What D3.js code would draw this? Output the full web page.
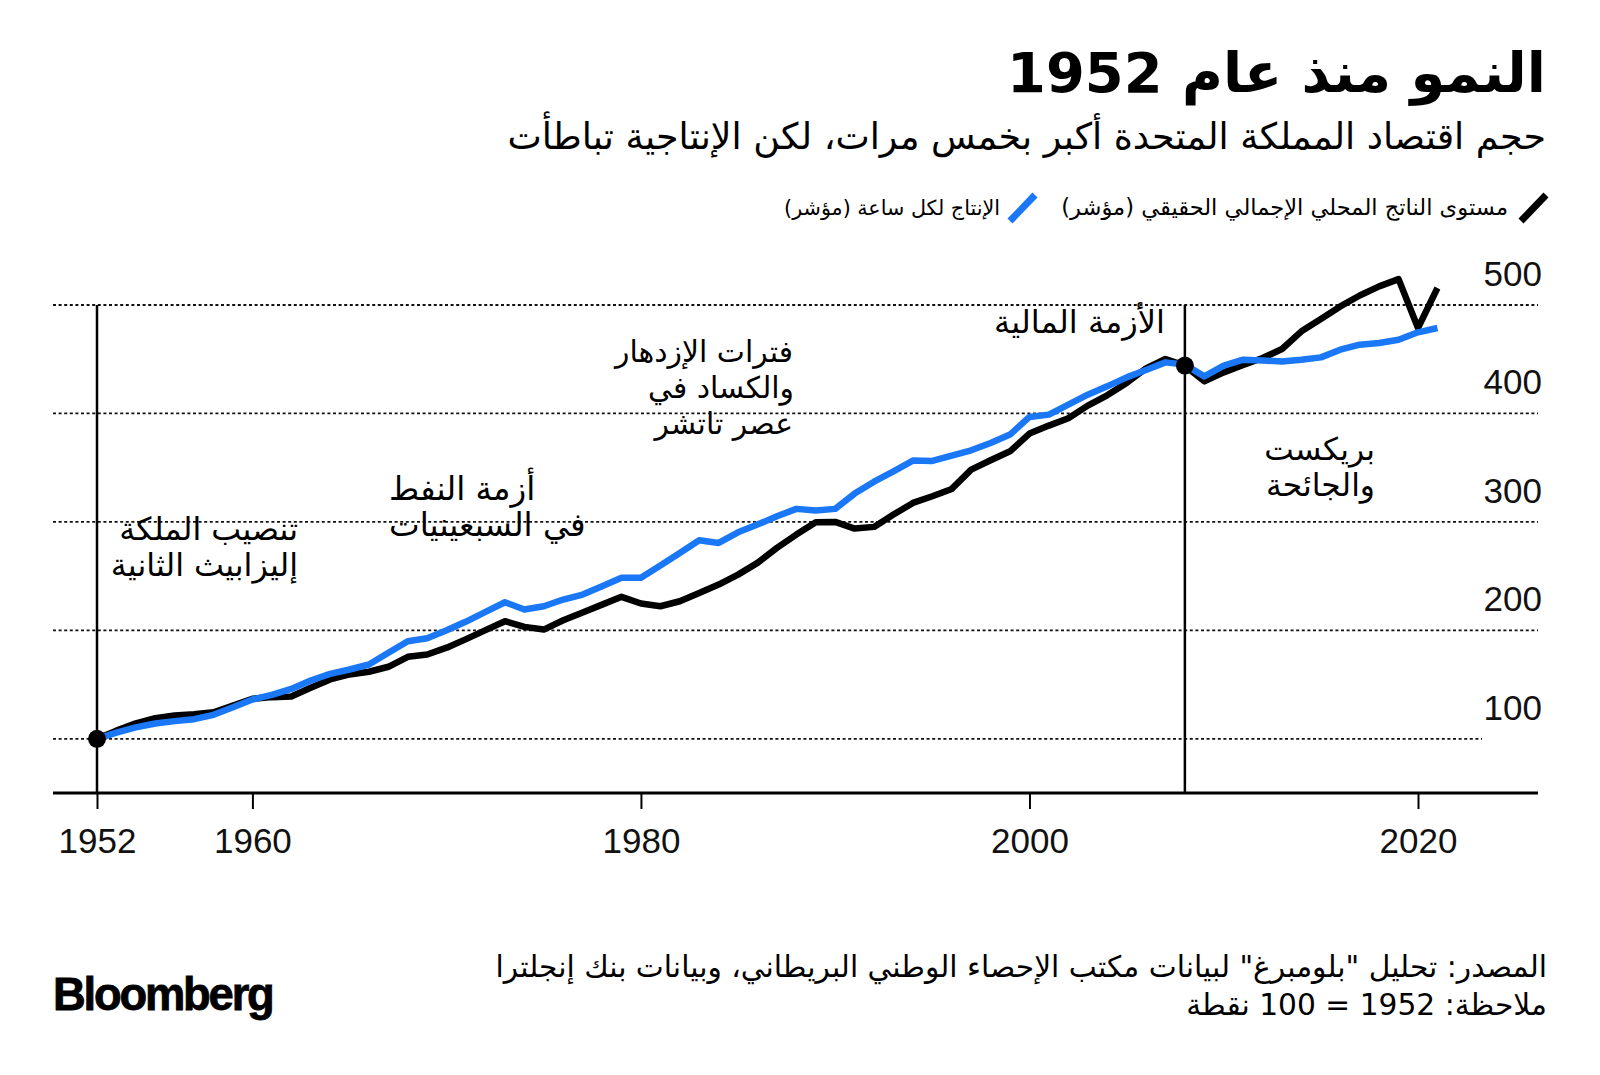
<!DOCTYPE html>
<html>
<head>
<meta charset="utf-8">
<script src="https://cdn.jsdelivr.net/npm/d3@7"></script>
<style>
  body { margin: 0; background: #fff; }
  svg { display: block; background: #fff; }
  .ar { font-family: "DejaVu Sans", "Noto Sans", sans-serif; fill: #000; }
  .num { font-family: "Liberation Sans", Arial, sans-serif; fill: #111; }
</style>
</head>
<body>
<svg id="chart" width="1600" height="1075"></svg>
<script>
// ---------------- DATA ----------------
const years = [1952,1953,1954,1955,1956,1957,1958,1959,1960,1961,1962,1963,1964,1965,1966,1967,1968,1969,
  1970,1971,1972,1973,1974,1975,1976,1977,1978,1979,1980,1981,1982,1983,1984,1985,1986,1987,1988,1989,
  1990,1991,1992,1993,1994,1995,1996,1997,1998,1999,2000,2001,2002,2003,2004,2005,2006,2007,2008,2009,
  2010,2011,2012,2013,2014,2015,2016,2017,2018,2019,2020,2021];

// Real GDP level (index, 1952 = 100)
const gdp = [100,107.5,114.2,119,121.5,122.7,124.5,130.7,136.9,138.4,139,147,154.7,159.3,161.8,166.4,175.6,177.7,
  184,191.9,200.2,208.4,203.2,200.7,209.3,216.5,223.7,230.9,224.7,222.2,226.8,234.5,242.2,251.4,262.2,276,288.3,299.6,
  300,293.8,295.4,306.7,317.5,323.6,330.4,348.2,356.8,365.1,381.4,388.8,395.5,407.2,416.7,428.1,441.5,450.2,444.1,429.6,
  437.9,444.7,451.1,459.4,475.7,487.1,498.7,508.8,517.2,523.9,478.8,515.7];

// Output per hour (index, 1952 = 100)
const productivity = [100,105.7,110.5,114.1,116.3,118.1,122.1,129.1,136.2,140.5,146,153.7,159.9,163.9,168.5,179.3,190,192.7,
  200,208.1,217,225.9,219.2,222.2,228.4,233,240.7,248.4,248.4,259.7,271.4,283,280.6,290.4,297.5,305.2,312,310.4,
  312,326.1,337.1,346.6,356.5,356.2,361.1,366,372.8,380.5,396.8,398.9,408.1,417.3,425,433.3,440,447.1,445,434.2,
  444.1,449.6,448.9,448,449.6,451.7,458.8,463.4,465,468,474.8,478.8];

const xTickValues = [1952, 1960, 1980, 2000, 2020];
const yTickValues = [100, 200, 300, 400, 500];
const markerYears = [1952, 2008];

const titleText = "النمو منذ عام 1952";
const subtitleText = "حجم اقتصاد المملكة المتحدة أكبر بخمس مرات، لكن الإنتاجية تباطأت";
const seriesNames = ["مستوى الناتج المحلي الإجمالي الحقيقي (مؤشر)", "الإنتاج لكل ساعة (مؤشر)"];
const seriesColors = ["#000000", "#1a78f7"];
const noteQueen = ["تنصيب الملكة", "إليزابيث الثانية"];
const noteOil = ["أزمة النفط", "في السبعينيات"];
const noteThatcher = ["فترات الإزدهار", "والكساد في", "عصر تاتشر"];
const noteCrisis = ["الأزمة المالية"];
const noteBrexit = ["بريكست", "والجائحة"];
const sourceLines = ["المصدر: تحليل \"بلومبرغ\" لبيانات مكتب الإحصاء الوطني البريطاني، وبيانات بنك إنجلترا",
                     "ملاحظة: 1952 = 100 نقطة"];

// ---------------- LAYOUT ----------------
const svg = d3.select("#chart");
const plotLeft = 53, plotRight = 1538, shortGridRight = 1482;
const x = d3.scaleLinear().domain([1952, 2020]).range([97, 1418]);
const y = d3.scaleLinear().domain([50, 500]).range([793, 305]);

// gridlines
svg.append("g").selectAll("line").data(yTickValues).join("line")
  .attr("x1", plotLeft)
  .attr("x2", d => d === 100 ? shortGridRight : plotRight)
  .attr("y1", d => y(d)).attr("y2", d => y(d))
  .attr("stroke", "#111").attr("stroke-width", 1.8)
  .attr("stroke-dasharray", "3,2.6");

// y labels
svg.append("g").selectAll("text").data(yTickValues).join("text")
  .attr("class", "num")
  .attr("x", 1542).attr("y", d => y(d) - 19)
  .attr("text-anchor", "end")
  .attr("font-size", 35)
  .text(d => d);

// x axis baseline
svg.append("line")
  .attr("x1", plotLeft).attr("x2", plotRight)
  .attr("y1", y(50)).attr("y2", y(50))
  .attr("stroke", "#000").attr("stroke-width", 3);

const xAxis = d3.axisBottom(x).tickValues(xTickValues).tickFormat(d3.format("d")).tickSize(16).tickSizeOuter(0);
const gx = svg.append("g").attr("transform", `translate(0,${y(50)})`).call(xAxis);
gx.select(".domain").remove();
gx.selectAll(".tick line").attr("stroke", "#000").attr("stroke-width", 2);
gx.selectAll(".tick text")
  .attr("class", "num")
  .attr("font-size", 35)
  .attr("y", 60).attr("dy", 0)
  .attr("fill", "#111");

// event marker lines
svg.append("g").selectAll("line").data(markerYears).join("line")
  .attr("x1", d => x(d)).attr("x2", d => x(d))
  .attr("y1", y(500)).attr("y2", y(50))
  .attr("stroke", "#000").attr("stroke-width", 2.5);

// series lines
const line = d3.line().x((d, i) => x(years[i])).y(d => y(d));
svg.append("path").datum(gdp)
  .attr("d", line).attr("fill", "none")
  .attr("stroke", seriesColors[0]).attr("stroke-width", 6.5)
  .attr("stroke-linejoin", "round").attr("stroke-linecap", "butt");
svg.append("path").datum(productivity)
  .attr("d", line).attr("fill", "none")
  .attr("stroke", seriesColors[1]).attr("stroke-width", 6.5)
  .attr("stroke-linejoin", "round").attr("stroke-linecap", "butt");

// marker dots
svg.append("g").selectAll("circle").data(markerYears).join("circle")
  .attr("cx", d => x(d))
  .attr("cy", d => y(gdp[years.indexOf(d)]))
  .attr("r", 9).attr("fill", "#000");

// ---------------- TEXT HELPERS ----------------
function textBlock(lines, targets, anchorX, align, baselines, baseSize, weight) {
  const g = svg.append("g");
  const nodes = lines.map((s, i) => g.append("text")
    .attr("class", "ar")
    .attr("direction", "rtl")
    .attr("text-anchor", "middle")
    .attr("x", 0).attr("y", baselines[i])
    .attr("font-size", baseSize)
    .attr("font-weight", weight || 400)
    .text(s));
  const measured = nodes.reduce((a, n) => a + n.node().getBBox().width, 0);
  const wanted = targets.reduce((a, b) => a + b, 0);
  const size = baseSize * wanted / measured;
  nodes.forEach(n => n.attr("font-size", size));
  nodes.forEach(n => {
    const w = n.node().getBBox().width;
    n.attr("x", align === "right" ? anchorX - w / 2 : anchorX + w / 2);
  });
  return g;
}

// title / subtitle
textBlock([titleText], [539], 1546, "right", [92], 60, 700);
textBlock([subtitleText], [1039], 1546, "right", [149], 34, 400);

// legend
svg.append("line").attr("x1", 1521).attr("y1", 221).attr("x2", 1546).attr("y2", 195)
  .attr("stroke", seriesColors[0]).attr("stroke-width", 7);
svg.append("line").attr("x1", 1010).attr("y1", 221).attr("x2", 1035).attr("y2", 195)
  .attr("stroke", seriesColors[1]).attr("stroke-width", 7);
textBlock([seriesNames[0]], [447], 1508, "right", [215], 22, 400);
textBlock([seriesNames[1]], [216], 1000, "right", [215], 22, 400);

// annotations
textBlock(noteQueen, [182, 184], 298, "right", [540, 576], 28, 400);
textBlock(noteOil, [138, 205], 389, "left", [500, 536], 28, 400);
textBlock(noteThatcher, [175, 165, 127], 794, "right", [362, 398, 434], 28, 400);
textBlock(noteCrisis, [171], 1165, "right", [333], 28, 400);
textBlock(noteBrexit, [109, 111], 1375, "right", [460, 496], 28, 400);

// source
textBlock(sourceLines, [1067, 346], 1547, "right", [977, 1015], 28, 400);

// Bloomberg wordmark
const logo = svg.append("text")
  .attr("x", 53).attr("y", 1010)
  .attr("font-family", "\"Liberation Sans\", Arial, sans-serif")
  .attr("font-weight", 700)
  .attr("font-size", 46)
  .attr("letter-spacing", -2.2)
  .attr("fill", "#000")
  .attr("stroke", "#000").attr("stroke-width", 0.8)
  .text("Bloomberg");
const lw = logo.node().getBBox().width;
logo.attr("font-size", 46 * 220 / lw);
</script>
</body>
</html>
